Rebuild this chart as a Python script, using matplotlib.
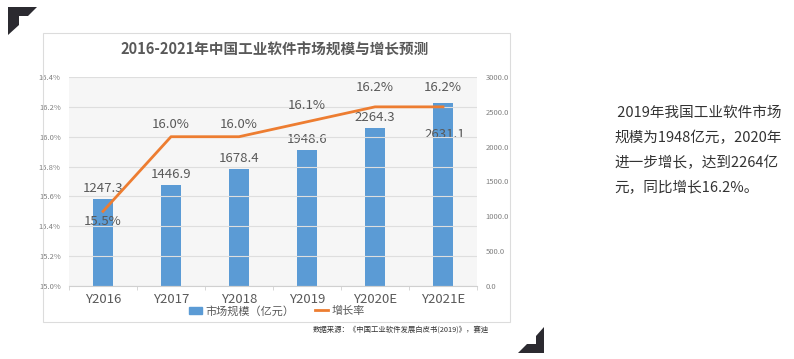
import matplotlib.pyplot as plt
import matplotlib.patches as mpatches
from matplotlib.lines import Line2D
import numpy as np

plt.rcParams['font.family'] = ['Noto Sans CJK SC', 'DejaVu Sans']

years = ['Y2016', 'Y2017', 'Y2018', 'Y2019', 'Y2020E', 'Y2021E']
market_size = [1247.3, 1446.9, 1678.4, 1948.6, 2264.3, 2631.1]
growth_rate = [15.5, 16.0, 16.0, 16.1, 16.2, 16.2]

title = '2016-2021年中国工业软件市场规模与增长预测'
source = '数据来源：《中国工业软件发展白皮书(2019)》，赛迪'
note_lines = [' 2019年我国工业软件市场', '规模为1948亿元，2020年',
              '进一步增长，达到2264亿', '元，同比增长16.2%。']

blue = '#5b9bd5'
orange = '#ed7d31'
gray = '#595959'

W, H = 794, 359
fig = plt.figure(figsize=(W / 100, H / 100), dpi=100)


def fx(px):
    return px / W


def fy(py):
    return 1 - py / H


# frame around the chart
fig.patches.append(mpatches.Rectangle((fx(43), fy(322)), fx(467), 289 / H,
                                      transform=fig.transFigure, fill=False,
                                      edgecolor='#dcdcdc', lw=0.8))

# corner decorations
tl = [(8, 7), (37, 7), (28, 16), (19, 16), (19, 25), (8, 35)]
br = [(544, 327), (544, 353), (518, 353), (527, 344), (536, 344), (536, 336)]
for pts in (tl, br):
    fig.patches.append(mpatches.Polygon([(fx(x), fy(y)) for x, y in pts],
                                        closed=True, transform=fig.transFigure,
                                        color='#2b2a30', lw=0))

ax = fig.add_axes([fx(69), fy(286), fx(408), 209 / H])
ax.set_facecolor('#f6f6f6')
x = np.arange(len(years))
bars = ax.bar(x, market_size, width=0.29, color=blue, zorder=2)
ax.set_ylim(0, 3000)
ax.set_xlim(-0.5, len(years) - 0.5)
ax.set_xticks(x)
ax.set_xticklabels(years)
ax.set_xticks(np.arange(-0.5, len(years)), minor=True)
ax.tick_params(axis='x', which='major', length=0, labelsize=9.5,
               labelcolor=gray, pad=5)
ax.tick_params(axis='x', which='minor', length=3, color='#d0d0d0')
for s in ('top', 'left', 'right'):
    ax.spines[s].set_visible(False)
ax.spines['bottom'].set_color('#d0d0d0')

for i, (b, v) in enumerate(zip(bars, market_size)):
    if i == len(market_size) - 1:
        ax.annotate(f'{v:.1f}', (b.get_x() + b.get_width() / 2, v),
                    xytext=(2, -32), textcoords='offset pixels',
                    ha='center', va='center', fontsize=9.5, color=gray, zorder=5)
    else:
        ax.annotate(f'{v:.1f}', (b.get_x() + b.get_width() / 2, v),
                    xytext=(0, 11), textcoords='offset pixels',
                    ha='center', va='center', fontsize=9.5, color=gray, zorder=5)

ax2 = ax.twinx()
ax2.plot(x, growth_rate, color=orange, lw=2, zorder=3)
ax2.set_ylim(15.0, 16.4)
ticks = np.arange(15.0, 16.41, 0.2)
ax2.set_yticks(ticks)
ax2.set_yticklabels([f'{t:.1f}%' for t in ticks])
ax2.yaxis.tick_left()
ax2.tick_params(axis='y', length=0, labelsize=5.5, labelcolor='#808080', pad=6)
ax2.grid(axis='y', color='#dedede', lw=0.8)
ax2.set_axisbelow(True)
for s in ax2.spines.values():
    s.set_visible(False)

# twinx moves the first axis' ticks to the left, so put them back on the right
ax.yaxis.tick_right()
ax.set_yticks(np.arange(0, 3001, 500))
ax.set_yticklabels([f'{v:.1f}' for v in np.arange(0, 3001, 500)])
ax.tick_params(axis='y', length=0, labelsize=5.5, labelcolor='#808080', pad=6)

offsets = [-10, 12, 12, 16, 19, 19]
for xi, r, off in zip(x, growth_rate, offsets):
    ax2.annotate(f'{r:.1f}%', (xi, r), xytext=(0, off), textcoords='offset pixels',
                 ha='center', va='center', fontsize=9.5, color=gray)

fig.text(fx(275), fy(50), title, ha='center', va='center', fontsize=10.5,
         fontweight='bold', color=gray)

handles = [mpatches.Patch(color=blue, label='市场规模（亿元）'),
           Line2D([0], [0], color=orange, lw=2, label='增长率')]
fig.legend(handles=handles, loc='center', bbox_to_anchor=(fx(277), fy(311)),
           ncol=2, frameon=False, fontsize=8, labelcolor=gray,
           handlelength=1.2, handletextpad=0.3, columnspacing=1.8)

fig.text(fx(313), fy(330), source, ha='left', va='center', fontsize=5.3,
         color='#333333')

for i, line in enumerate(note_lines):
    fig.text(fx(614), fy(113 + 25 * i), line, ha='left', va='center',
             fontsize=10.5, color='#333333')

fig.savefig('out.png', dpi=100)
